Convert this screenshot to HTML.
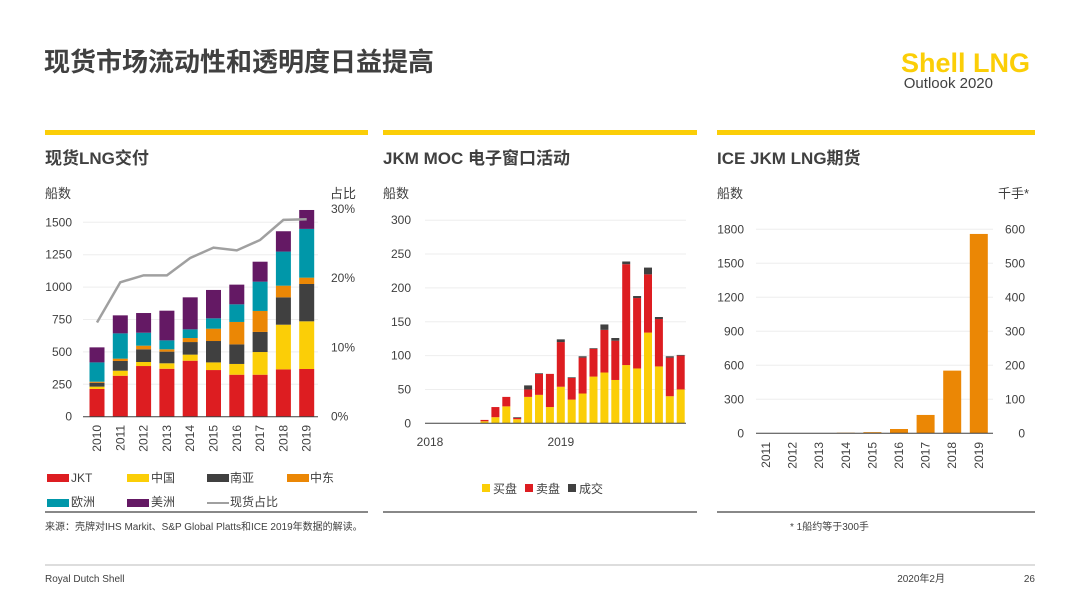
<!DOCTYPE html>
<html><head><meta charset="utf-8"><style>
body{margin:0;width:1080px;height:608px;background:#fff;overflow:hidden;font-family:"Liberation Sans","Noto Sans CJK SC",sans-serif;}
svg{position:absolute;left:0;top:0}
</style></head><body>
<svg width="1080" height="608" xmlns="http://www.w3.org/2000/svg" font-family="Liberation Sans, Noto Sans CJK SC, sans-serif">
<text x="44" y="71" font-size="26" font-weight="bold" fill="#404040">现货市场流动性和透明度日益提高</text>
<text x="1030" y="72" font-size="27" font-weight="bold" fill="#fbce07" text-anchor="end">Shell LNG</text>
<text x="993" y="88" font-size="15" fill="#404040" text-anchor="end">Outlook 2020</text>
<rect x="45" y="130" width="323" height="5" fill="#fbce07"/>
<rect x="383" y="130" width="314" height="5" fill="#fbce07"/>
<rect x="717" y="130" width="318" height="5" fill="#fbce07"/>
<text x="45" y="164" font-size="17" font-weight="bold" fill="#404040">现货LNG交付</text>
<text x="383" y="164" font-size="17" font-weight="bold" fill="#404040">JKM MOC 电子窗口活动</text>
<text x="717" y="164" font-size="17" font-weight="bold" fill="#404040">ICE JKM LNG期货</text>
<text x="45" y="198" font-size="13" fill="#404040">船数</text>
<text x="330" y="198" font-size="13" fill="#404040">占比</text>
<text x="383" y="198" font-size="13" fill="#404040">船数</text>
<text x="717" y="198" font-size="13" fill="#404040">船数</text>
<text x="998" y="198" font-size="13" fill="#404040">千手*</text>
<g id="c1"></g><g id="c2"></g><g id="c3"></g>
<g font-size="12" fill="#404040">
<rect x="47" y="474" width="22" height="8" fill="#dd1d21"/><text x="71" y="482">JKT</text>
<rect x="127" y="474" width="22" height="8" fill="#fbce07"/><text x="151" y="482">中国</text>
<rect x="207" y="474" width="22" height="8" fill="#404040"/><text x="230" y="482">南亚</text>
<rect x="287" y="474" width="22" height="8" fill="#eb8705"/><text x="310" y="482">中东</text>
<rect x="47" y="499" width="22" height="8" fill="#0097a9"/><text x="71" y="506">欧洲</text>
<rect x="127" y="499" width="22" height="8" fill="#641964"/><text x="151" y="506">美洲</text>
<line x1="207" y1="503" x2="229" y2="503" stroke="#a0a0a0" stroke-width="2"/><text x="230" y="506">现货占比</text>
</g>
<g font-size="12" fill="#404040">
<rect x="482" y="484" width="8" height="8" fill="#fbce07"/><text x="493" y="493">买盘</text>
<rect x="525" y="484" width="8" height="8" fill="#dd1d21"/><text x="536" y="493">卖盘</text>
<rect x="568" y="484" width="8" height="8" fill="#404040"/><text x="579" y="493">成交</text>
</g>
<line x1="45" y1="512" x2="368" y2="512" stroke="#606060" stroke-width="1.5"/>
<line x1="383" y1="512" x2="697" y2="512" stroke="#606060" stroke-width="1.5"/>
<line x1="717" y1="512" x2="1035" y2="512" stroke="#606060" stroke-width="1.5"/>
<text x="45" y="530" font-size="10" fill="#404040">来源：壳牌对IHS Markit、S&amp;P Global Platts和ICE 2019年数据的解读。</text>
<text x="790" y="530" font-size="10" fill="#404040">* 1船约等于300手</text>
<line x1="45" y1="565" x2="1035" y2="565" stroke="#bbb" stroke-width="1"/>
<text x="45" y="582" font-size="10" fill="#404040">Royal Dutch Shell</text>
<text x="945" y="582" font-size="10" fill="#404040" text-anchor="end">2020年2月</text>
<text x="1035" y="582" font-size="10" fill="#404040" text-anchor="end">26</text>
</svg>
<script>
const years1=['2010','2011','2012','2013','2014','2015','2016','2017','2018','2019'];
const jkt=[214,316,391,370,432,360,324,324,365,368];
const china=[18,39,31,42,47,59,83,175,345,368];
const southAsia=[30,75,98,90,97,165,151,155,211,288];
const middleEast=[8,18,28,18,31,95,173,162,90,49];
const europe=[149,195,100,69,67,80,136,226,263,376];
const americas=[116,139,152,229,247,219,152,154,157,146];
const spotShare=[13.6,19.4,20.4,20.4,22.9,24.4,24.0,25.5,28.4,28.5];
const y1Ticks=[0,250,500,750,1000,1250,1500];
const y1RTicks=[0,10,20,30];

const buy=[3,9,25,6,39,42,24,54,35,44,69,75,64,86,81,134,84,40,50];
const sell=[2,15,14,2,11,31,49,66,32,53,41,63,58,149,104,86,70,57,50];
const trade=[0,0,0,1,6,1,0,4,1,2,1,8,4,4,3,10,3,2,1];
const firstMonth=5;
const y2Ticks=[0,50,100,150,200,250,300];
const x2Labels=['2018','2019'];

const years3=['2011','2012','2013','2014','2015','2016','2017','2018','2019'];
const ships3=[0,0,0,5,10,38,162,553,1759];
const y3Ticks=[0,300,600,900,1200,1500,1800];
const y3RTicks=[0,100,200,300,400,500,600];

const NS='http://www.w3.org/2000/svg';
function mk(p,tag,a,txt){const e=document.createElementNS(NS,tag);for(const k in a)e.setAttribute(k,a[k]);if(txt!==undefined)e.textContent=txt;p.appendChild(e);return e;}
const C={red:'#dd1d21',yel:'#fbce07',dk:'#404040',or:'#eb8705',teal:'#0097a9',pur:'#641964'};

(function(){
const g=document.getElementById('c1');


const y=v=>416.7-v*0.1296, yr=p=>416.7-p*6.93, x=i=>97+i*23.3;
y1Ticks.forEach(t=>{if(t>0){const l=mk(g,'line',{x1:83,x2:318,y1:y(t),y2:y(t),stroke:'#eee'});}
const tx=mk(g,'text',{x:72,y:y(t)+4,'font-size':12,fill:'#404040','text-anchor':'end'},t);});
y1RTicks.forEach(t=>{const tx=mk(g,'text',{x:331,y:yr(t)+4,'font-size':12,fill:'#404040'},t+'%');});
const series=[[jkt,C.red],[china,C.yel],[southAsia,C.dk],[middleEast,C.or],[europe,C.teal],[americas,C.pur]];
years1.forEach((yrn,i)=>{let acc=0;series.forEach(([arr,c])=>{const v=arr[i];const r=mk(g,'rect',{x:x(i)-7.5,y:y(acc+v),width:15,height:v*0.1296,fill:c});acc+=v;});
const tx=mk(g,'text',{x:0,y:0,'font-size':12,fill:'#404040','text-anchor':'end',transform:`translate(${x(i)+4},425) rotate(-90)`},yrn);});
const ax=mk(g,'line',{x1:83,x2:318,y1:416.7,y2:416.7,stroke:'#404040'});
const pl=mk(g,'polyline',{points:spotShare.map((p,i)=>x(i)+','+yr(p)).join(' '),fill:'none',stroke:'#a0a0a0','stroke-width':2.5});

})();

(function(){
const g=document.getElementById('c2');


const y=v=>423.3-v*0.677, x=m=>430+m*10.9;
y2Ticks.forEach(t=>{if(t>0){const l=mk(g,'line',{x1:425,x2:686,y1:y(t),y2:y(t),stroke:'#eee'});}
const tx=mk(g,'text',{x:411,y:y(t)+4,'font-size':12,fill:'#404040','text-anchor':'end'},t);});
buy.forEach((b,i)=>{const m=firstMonth+i;let acc=0;[[b,C.yel],[sell[i],C.red],[trade[i],C.dk]].forEach(([v,c])=>{const r=mk(g,'rect',{x:x(m)-4,y:y(acc+v),width:8,height:v*0.677,fill:c});acc+=v;});});
const ax=mk(g,'line',{x1:425,x2:686,y1:423.3,y2:423.3,stroke:'#404040'});
x2Labels.forEach((l,i)=>{const tx=mk(g,'text',{x:x(i*12),y:446,'font-size':12,fill:'#404040','text-anchor':'middle'},l);});
})();

(function(){
const g=document.getElementById('c3');


const k=204/1800, y=v=>433.3-v*k, yr=v=>433.3-v*k*3, x=i=>766+i*26.6;
y3Ticks.forEach(t=>{if(t>0){const l=mk(g,'line',{x1:756,x2:993,y1:y(t),y2:y(t),stroke:'#eee'});}
const tx=mk(g,'text',{x:744,y:y(t)+4,'font-size':12,fill:'#404040','text-anchor':'end'},t);});
y3RTicks.forEach(t=>{const tx=mk(g,'text',{x:1025,y:yr(t)+4,'font-size':12,fill:'#404040','text-anchor':'end'},t);});
years3.forEach((yrn,i)=>{const v=ships3[i];const r=mk(g,'rect',{x:x(i)-9,y:y(v),width:18,height:v*k,fill:C.or});
const tx=mk(g,'text',{x:0,y:0,'font-size':12,fill:'#404040','text-anchor':'end',transform:`translate(${x(i)+4},442) rotate(-90)`},yrn);});
const ax=mk(g,'line',{x1:756,x2:993,y1:433.3,y2:433.3,stroke:'#404040'});
})();
</script>
</body></html>
